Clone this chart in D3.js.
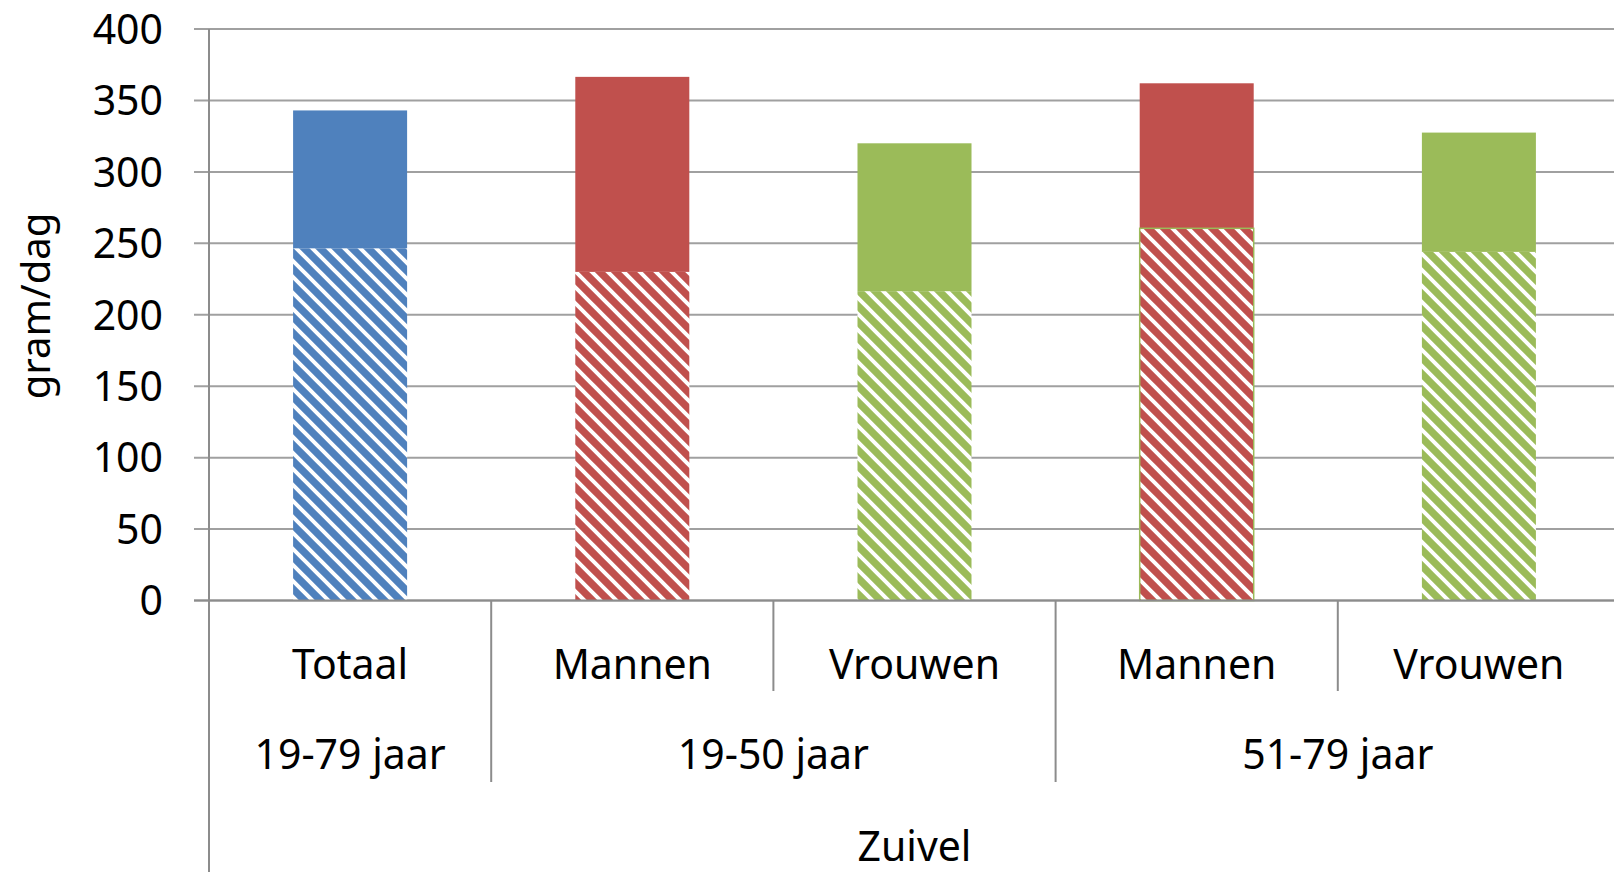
<!DOCTYPE html>
<html>
<head>
<meta charset="utf-8">
<script src="https://cdn.jsdelivr.net/npm/d3@7"></script>
<style>
  html, body { margin: 0; padding: 0; background: #fff; }
  svg { display: block; font-family: "Noto Sans", sans-serif; }
</style>
</head>
<body>
<svg width="1614" height="872"></svg>
<script>
// data
const categories = ["Totaal", "Mannen", "Vrouwen", "Mannen", "Vrouwen"];
const ageGroups = ["19-79 jaar", "19-50 jaar", "19-50 jaar", "51-79 jaar", "51-79 jaar"];
const hatchedValues = [246.5, 230, 216.5, 260.5, 244];
const solidValues = [96.5, 136.5, 103.5, 101.5, 83.5];
const barColors = ["#4f81bd", "#c0504d", "#9bbb59", "#c0504d", "#9bbb59"];
const yTicks = [0, 50, 100, 150, 200, 250, 300, 350, 400];
const axisTitle = "gram/dag";
const groupTitle = "Zuivel";

const svg = d3.select("svg");
const plotLeft = 209, plotRight = 1620, plotTop = 29, plotBottom = 600.5;

const x = d3.scaleBand()
    .domain(d3.range(categories.length))
    .range([plotLeft, plotRight]);

const y = d3.scaleLinear()
    .domain([0, 400])
    .range([plotBottom, plotTop]);

const barW = x.bandwidth() * 0.404;

// hatch patterns, one per colour
const defs = svg.append("defs");
Array.from(new Set(barColors)).forEach(c => {
    const p = defs.append("pattern")
        .attr("id", "hatch" + c.slice(1))
        .attr("patternUnits", "userSpaceOnUse")
        .attr("width", 16)
        .attr("height", 16);
    p.append("rect").attr("width", 16).attr("height", 16).attr("fill", c);
    p.append("path")
        .attr("d", "M-4,-4L20,20M-4,12L4,20M12,-4L20,4")
        .attr("stroke", "#fff")
        .attr("stroke-width", 4);
});

// gridlines
svg.append("g")
    .selectAll("line")
    .data(yTicks)
    .enter()
    .append("line")
    .attr("x1", plotLeft - 15)
    .attr("x2", plotRight)
    .attr("y1", d => y(d))
    .attr("y2", d => y(d))
    .attr("stroke", "#a0a0a0")
    .attr("stroke-width", 2);

// tick labels
svg.append("g")
    .selectAll("text")
    .data(yTicks)
    .enter()
    .append("text")
    .attr("x", 163)
    .attr("y", d => y(d))
    .attr("dy", "0.36em")
    .attr("text-anchor", "end")
    .attr("font-size", 41)
    .attr("fill", "#000")
    .text(d => d);

// stacked bars
const rows = categories.map((c, i) => ({ i: i, hatched: hatchedValues[i], solid: solidValues[i] }));
const stack = d3.stack().keys(["hatched", "solid"])(rows);

const bars = svg.append("g");
stack.forEach(layer => {
    bars.selectAll(null)
        .data(layer)
        .enter()
        .append("rect")
        .attr("x", d => x(d.data.i) + (x.bandwidth() - barW) / 2)
        .attr("width", barW)
        .attr("y", d => y(d[1]))
        .attr("height", d => y(d[0]) - y(d[1]))
        .attr("fill", d => layer.key === "hatched"
            ? "url(#hatch" + barColors[d.data.i].slice(1) + ")"
            : barColors[d.data.i]);
});

// green outline on the hatched part of Mannen 51-79
bars.append("rect")
    .attr("x", x(3) + (x.bandwidth() - barW) / 2)
    .attr("width", barW)
    .attr("y", y(hatchedValues[3]))
    .attr("height", y(0) - y(hatchedValues[3]))
    .attr("fill", "none")
    .attr("stroke", "#9bbb59")
    .attr("stroke-width", 1.5);

// axis lines
const axisCol = "#8c8c8c";
svg.append("line")
    .attr("x1", plotLeft).attr("x2", plotLeft)
    .attr("y1", plotTop).attr("y2", 872)
    .attr("stroke", axisCol).attr("stroke-width", 2);
svg.append("line")
    .attr("x1", plotLeft - 15).attr("x2", plotRight)
    .attr("y1", plotBottom).attr("y2", plotBottom)
    .attr("stroke", axisCol).attr("stroke-width", 2);

// category separators: short within a group, long between groups
for (let i = 1; i < categories.length; i++) {
    const between = ageGroups[i] !== ageGroups[i - 1];
    svg.append("line")
        .attr("x1", x(i)).attr("x2", x(i))
        .attr("y1", plotBottom)
        .attr("y2", between ? 782 : 691)
        .attr("stroke", axisCol)
        .attr("stroke-width", 2);
}

// category labels
svg.append("g")
    .selectAll("text")
    .data(categories)
    .enter()
    .append("text")
    .attr("x", (d, i) => x(i) + x.bandwidth() / 2)
    .attr("y", 664)
    .attr("dy", "0.36em")
    .attr("text-anchor", "middle")
    .attr("font-size", 41)
    .text(d => d);

// age group labels
const groupNames = Array.from(new Set(ageGroups));
svg.append("g")
    .selectAll("text")
    .data(groupNames)
    .enter()
    .append("text")
    .attr("x", g => {
        const idx = ageGroups.map((a, i) => a === g ? i : -1).filter(i => i >= 0);
        return (x(idx[0]) + x(idx[idx.length - 1]) + x.bandwidth()) / 2;
    })
    .attr("y", 754)
    .attr("dy", "0.36em")
    .attr("text-anchor", "middle")
    .attr("font-size", 41)
    .text(d => d);

svg.append("text")
    .attr("x", (plotLeft + plotRight) / 2)
    .attr("y", 846)
    .attr("dy", "0.36em")
    .attr("text-anchor", "middle")
    .attr("font-size", 41)
    .text(groupTitle);

svg.append("text")
    .attr("transform", "translate(36," + 306 + ") rotate(-90)")
    .attr("dy", "0.36em")
    .attr("text-anchor", "middle")
    .attr("font-size", 40)
    .text(axisTitle);
</script>
</body>
</html>
